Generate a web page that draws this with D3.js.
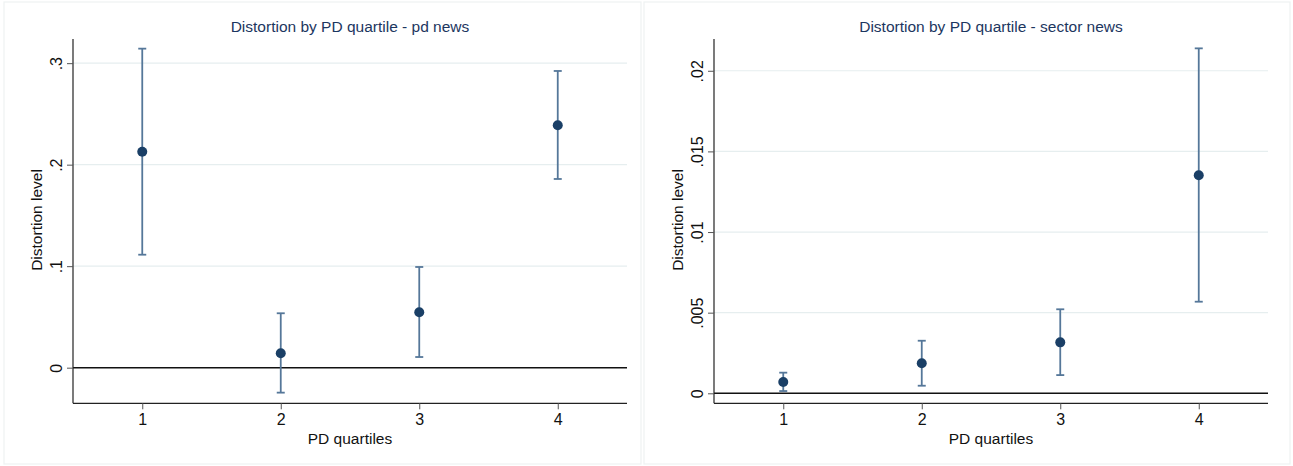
<!DOCTYPE html>
<html><head><meta charset="utf-8">
<script src="https://cdn.jsdelivr.net/npm/d3@7"></script>
<style>
html,body{margin:0;padding:0;background:#fff;}
svg{display:block;font-family:"Liberation Sans",Arial,Helvetica,sans-serif;}
</style></head>
<body>
<svg id="c" width="1293" height="466"></svg>
<script>
const quartiles = [1, 2, 3, 4];
const pdMean  = [0.2128, 0.0142, 0.0546, 0.2388];
const pdLow   = [0.1113, -0.0246, 0.0105, 0.1859];
const pdHigh  = [0.3143, 0.0536, 0.0992, 0.2923];
const pdTicks = [0, 0.1, 0.2, 0.3];
const pdTickLabels = ["0", ".1", ".2", ".3"];

const secMean  = [0.00070, 0.00186, 0.00316, 0.01352];
const secLow   = [0.00014, 0.00047, 0.00113, 0.00568];
const secHigh  = [0.00128, 0.00326, 0.00521, 0.02139];
const secTicks = [0, 0.005, 0.01, 0.015, 0.02];
const secTickLabels = ["0", ".005", ".01", ".015", ".02"];

const titles = ["Distortion by PD quartile - pd news", "Distortion by PD quartile - sector news"];
const xTitle = "PD quartiles";
const yTitle = "Distortion level";

const svg = d3.select("#c");

function panel(cfg){
  const g = svg.append("g");
  g.append("rect").attr("x", cfg.px).attr("y", 2).attr("width", cfg.pw).attr("height", 462)
    .attr("fill", "#fff").attr("stroke", "#eef2f2").attr("stroke-width", 1.2);

  const x = d3.scaleLinear().domain([0.5, 4.5]).range([cfg.x0, cfg.x1]);
  const y = d3.scaleLinear().domain(cfg.ydom).range([403.3, 39]);

  g.selectAll("line.grid").data(cfg.ticks.filter(t => t !== 0)).enter().append("line")
    .attr("x1", cfg.x0).attr("x2", cfg.x1)
    .attr("y1", d => y(d)).attr("y2", d => y(d))
    .attr("stroke", "#e6eeef").attr("stroke-width", 1.2);

  g.append("line").attr("x1", cfg.x0).attr("x2", cfg.x1)
    .attr("y1", y(0)).attr("y2", y(0)).attr("stroke", "#111").attr("stroke-width", 1.5);

  const ya = d3.axisLeft(y).tickValues(cfg.ticks).tickSize(6).tickFormat((d, i) => cfg.labels[i]);
  const yg = g.append("g").attr("transform", `translate(${cfg.x0},0)`).call(ya);
  yg.select(".domain").attr("stroke", "#222").attr("stroke-width", 1.2)
    .attr("d", `M0,${y.range()[0]}V${y.range()[1]}`);
  yg.selectAll(".tick line").attr("stroke", "#555").attr("stroke-width", 1);
  yg.selectAll(".tick text").attr("font-size", 16).attr("fill", "#111")
    .attr("text-anchor", "middle").attr("dy", 0).attr("x", 0)
    .attr("transform", "translate(-11,0) rotate(-90)");

  const xa = d3.axisBottom(x).tickValues(quartiles).tickSize(6).tickFormat(d3.format("d"));
  const xg = g.append("g").attr("transform", `translate(0,403.3)`).call(xa);
  xg.select(".domain").attr("stroke", "#222").attr("stroke-width", 1.2)
    .attr("d", `M${cfg.x0},0H${cfg.x1}`);
  xg.selectAll(".tick line").attr("stroke", "#555").attr("stroke-width", 1);
  xg.selectAll(".tick text").attr("font-size", 16).attr("fill", "#111").attr("y", 10).attr("dy", "0.71em");

  const col = "#557799";
  const cap = 4;
  quartiles.forEach((q, i) => {
    const cx = x(q);
    g.append("line").attr("x1", cx).attr("x2", cx).attr("y1", y(cfg.low[i])).attr("y2", y(cfg.high[i]))
      .attr("stroke", col).attr("stroke-width", 1.8);
    [cfg.low[i], cfg.high[i]].forEach(v => {
      g.append("line").attr("x1", cx - cap).attr("x2", cx + cap).attr("y1", y(v)).attr("y2", y(v))
        .attr("stroke", col).attr("stroke-width", 1.8);
    });
  });
  g.selectAll("circle.pt").data(quartiles).enter().append("circle")
    .attr("cx", d => x(d)).attr("cy", (d, i) => y(cfg.mean[i])).attr("r", 5)
    .attr("fill", "#1a3f66");

  const cxm = (cfg.x0 + cfg.x1) / 2;
  g.append("text").attr("x", cxm).attr("y", 32).attr("text-anchor", "middle")
    .attr("font-size", 15.5).attr("fill", "#1c3660").text(cfg.title);
  g.append("text").attr("x", cxm).attr("y", 444).attr("text-anchor", "middle")
    .attr("font-size", 15.5).attr("fill", "#111").text(xTitle);
  g.append("text").attr("transform", `translate(${cfg.x0 - 31},220) rotate(-90)`).attr("text-anchor", "middle")
    .attr("font-size", 15.5).attr("fill", "#111").text(yTitle);
}

panel({px: 4, pw: 637, x0: 73, x1: 627, ydom: [-0.0351, 0.3238], ticks: pdTicks, labels: pdTickLabels,
  mean: pdMean, low: pdLow, high: pdHigh, title: titles[0]});
panel({px: 644, pw: 646, x0: 714, x1: 1268, ydom: [-0.00062, 0.02197], ticks: secTicks, labels: secTickLabels,
  mean: secMean, low: secLow, high: secHigh, title: titles[1]});
</script>
</body></html>
